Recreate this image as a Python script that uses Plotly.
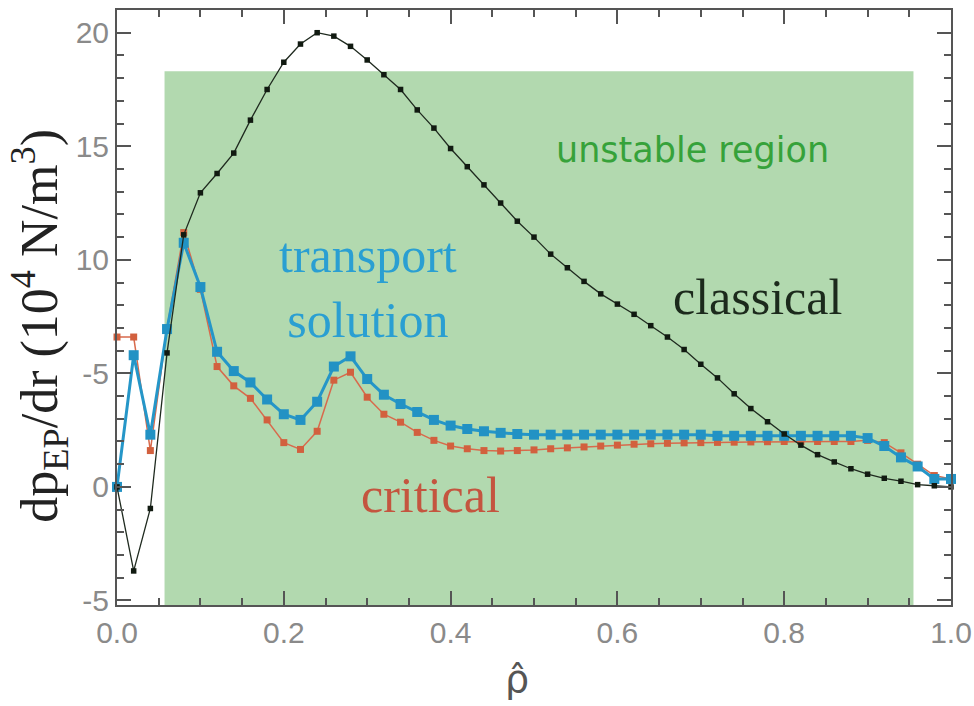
import plotly.graph_objects as go

# ---- data ----
rho = [round(0.02 * i, 2) for i in range(51)]

classical = [0.0, -3.7, -0.95, 5.9, 11.1, 12.95, 13.8, 14.7, 16.15, 17.5,
             18.7, 19.5, 20.0, 19.85, 19.4, 18.8, 18.15, 17.5, 16.6, 15.8,
             14.9, 14.1, 13.3, 12.5, 11.7, 11.0, 10.25, 9.65, 9.05, 8.5,
             8.05, 7.6, 7.1, 6.6, 6.05, 5.4, 4.8, 4.1, 3.45, 2.87,
             2.33, 1.84, 1.42, 1.1, 0.8, 0.56, 0.38, 0.25, 0.1, 0.05, 0.0]

transport = [0.0, 5.8, 2.3, 6.95, 10.75, 8.8, 5.95, 5.1, 4.6, 3.85,
             3.2, 2.95, 3.75, 5.3, 5.75, 4.75, 4.06, 3.65, 3.3, 2.95,
             2.7, 2.55, 2.45, 2.38, 2.33, 2.3, 2.3, 2.3, 2.3, 2.3,
             2.3, 2.3, 2.3, 2.3, 2.3, 2.3, 2.25, 2.25, 2.25, 2.25,
             2.25, 2.25, 2.25, 2.25, 2.25, 2.15, 1.8, 1.3, 0.9, 0.35, 0.35]

critical = [6.6, 6.6, 1.6, 7.0, 11.2, 8.7, 5.3, 4.45, 3.9, 2.95,
            1.95, 1.65, 2.45, 4.7, 5.05, 3.95, 3.2, 2.85, 2.4, 2.05,
            1.8, 1.68, 1.6, 1.58, 1.6, 1.63, 1.68, 1.72, 1.76, 1.8,
            1.84, 1.88, 1.9, 1.92, 1.94, 1.95, 1.96, 1.97, 1.98, 1.99,
            2.0, 2.0, 2.0, 2.0, 2.0, 2.05, 1.95, 1.5, 1.0, 0.5, 0.35]

unstable_x = [0.057, 0.955]
unstable_ytop = 18.3

x_ticks = [0.0, 0.2, 0.4, 0.6, 0.8, 1.0]
x_ticktext = ["0.0", "0.2", "0.4", "0.6", "0.8", "1.0"]
y_ticks = [-5, 0, 5, 10, 15, 20]
y_ticktext = ["-5", "0", "-5", "10", "15", "20"]

Y_RANGE = [-5.2, 21.0]
X_RANGE = [0, 1.0]

fig = go.Figure()

# unstable region shading
fig.add_shape(type="rect", xref="x", yref="y",
              x0=unstable_x[0], x1=unstable_x[1], y0=Y_RANGE[0], y1=unstable_ytop,
              fillcolor="#b2d9af", line=dict(width=0), layer="below")

fig.add_trace(go.Scatter(x=rho, y=critical, mode="lines+markers",
                         line=dict(color="#d86a4c", width=1.5),
                         marker=dict(symbol="square", size=7, color="#d2603e"),
                         name="critical", showlegend=False, cliponaxis=False))
fig.add_trace(go.Scatter(x=rho, y=transport, mode="lines+markers",
                         line=dict(color="#2596c8", width=3),
                         marker=dict(symbol="square", size=10, color="#2292c4"),
                         name="transport solution", showlegend=False, cliponaxis=False))
fig.add_trace(go.Scatter(x=rho, y=classical, mode="lines+markers",
                         line=dict(color="#1f2a1f", width=1.3),
                         marker=dict(symbol="square", size=5.5, color="#111a11"),
                         name="classical", showlegend=False, cliponaxis=False))

serif = "Liberation Serif, Times New Roman, serif"
ann = [
    dict(text="unstable region", x=0.69, y=14.85, font=dict(family="DejaVu Sans", size=35, color="#36a23a")),
    dict(text="transport<br>solution", x=0.301, y=8.77, font=dict(family=serif, size=50, color="#2a9fd2")),
    dict(text="classical", x=0.768, y=8.37, font=dict(family=serif, size=50, color="#1c2a1c")),
    dict(text="critical", x=0.376, y=-0.35, font=dict(family=serif, size=50, color="#c4553f")),
]
for a in ann:
    fig.add_annotation(xref="x", yref="y", showarrow=False, xanchor="center", yanchor="middle", **a)

# axis titles as annotations
fig.add_annotation(xref="paper", yref="paper", x=0.48, y=-0.125, showarrow=False,
                   text="ρ̂", font=dict(family="DejaVu Sans", size=38, color="#555555"),
                   xanchor="center", yanchor="middle")
fig.add_annotation(xref="paper", yref="paper", x=-0.093, y=0.47, showarrow=False, textangle=-90,
                   text="dp<sub>EP</sub>/dr (10<sup>4</sup> N/m<sup>3</sup>)",
                   font=dict(family=serif, size=52, color="#222222"),
                   xanchor="center", yanchor="middle")

axis_common = dict(showline=True, linecolor="#555555", linewidth=2, mirror="allticks",
                   ticks="inside", tickcolor="#555555", tickwidth=1.5, ticklen=14,
                   showgrid=False, zeroline=False, ticklabeloverflow="allow", automargin=False,
                   tickfont=dict(family="Liberation Sans, Arial, sans-serif", size=30, color="#8a8a8a"))

fig.update_xaxes(range=X_RANGE, tickvals=x_ticks, ticktext=x_ticktext,
                 minor=dict(dtick=0.05, ticks="inside", ticklen=7, tickcolor="#555555", tickwidth=1.5),
                 **axis_common)
fig.update_yaxes(range=Y_RANGE, tickvals=y_ticks, ticktext=y_ticktext,
                 minor=dict(dtick=1, ticks="inside", ticklen=7, tickcolor="#555555", tickwidth=1.5),
                 **axis_common)

fig.update_layout(width=974, height=706, margin=dict(l=117, r=23, t=10, b=101),
                  paper_bgcolor="white", plot_bgcolor="white", showlegend=False)

fig.write_html("out.html")
